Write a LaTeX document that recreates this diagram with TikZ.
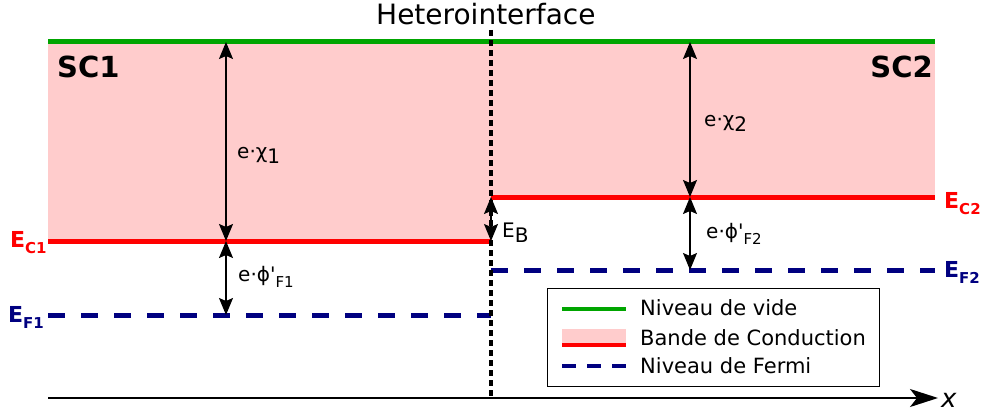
\documentclass[tikz,border=0pt]{standalone}
\usepackage{fontspec}
\setmainfont{DejaVu Sans}
\usetikzlibrary{arrows.meta}
\definecolor{vac}{RGB}{0,165,0}
\definecolor{band}{RGB}{255,204,204}
\definecolor{ec}{RGB}{255,0,0}
\definecolor{ef}{RGB}{0,0,128}
\tikzset{
  vacline/.style={vac, line width=5pt},
  ecline/.style={ec, line width=5pt},
  efline/.style={ef, line width=5pt, dash pattern=on 17pt off 16pt},
  gap/.style={black, line width=1.5pt, arrows={Stealth[length=17pt,width=14pt,inset=3pt]-Stealth[length=17pt,width=14pt,inset=3pt]}},
  lbl/.style={anchor=base west, inner sep=0pt, font=\fontsize{20}{24}\selectfont},
  elbl/.style={anchor=base west, inner sep=0pt, font=\fontsize{22}{26}\selectfont\bfseries},
}
\newcommand{\lsub}[1]{\raisebox{-5pt}{#1}}
\newcommand{\ssub}[1]{\raisebox{-6pt}{\fontsize{15}{18}\selectfont #1}}
\begin{document}
\begin{tikzpicture}[x=1pt,y=-1pt]
\useasboundingbox (0,0) rectangle (984,417);
% bands
\fill[band] (48,42) rectangle (491,241);
\fill[band] (491,42) rectangle (935,197);
% coordinates
\coordinate (vL) at (48,42);
\coordinate (vR) at (935,42);
\coordinate (c1L) at (48,241);
\coordinate (c1R) at (491,241);
\coordinate (c2L) at (491,197);
\coordinate (c2R) at (935,197);
\coordinate (f1L) at (48,315);
\coordinate (f1R) at (491,315);
\coordinate (f2L) at (491,270);
\coordinate (f2R) at (935,270);
\coordinate (a1t) at (226,42);
\coordinate (a1m) at (226,241);
\coordinate (a1b) at (226,315);
\coordinate (a2t) at (690,42);
\coordinate (a2m) at (690,197);
\coordinate (a2b) at (690,270);
\coordinate (ebt) at (491,197);
\coordinate (ebb) at (491,241);
\coordinate (hT) at (491,30);
\coordinate (hB) at (491,398);
\coordinate (xL) at (48,398);
\coordinate (xR) at (938,398);
% lines
\draw[vacline] (vL) -- (vR);
\draw[ecline] (c1L) -- (c1R);
\draw[ecline] (c2L) -- (c2R);
\draw[efline] (f1L) -- (f1R);
\draw[efline] (f2L) -- (f2R);
% interface
\draw[black, line width=3.5pt, dash pattern=on 6pt off 4pt] (hT) -- (hB);
% axis
\draw[black, line width=1.8pt, arrows={-Stealth[length=28pt,width=18pt,inset=7pt]}] (xL) -- (xR);
\node[anchor=base west, inner sep=0pt, font=\fontsize{26}{30}\selectfont\itshape] (xl) at (941,407) {x};
% arrows
\draw[gap] (a1t) -- (a1m);
\draw[gap] (a1m) -- (a1b);
\draw[gap] (a2t) -- (a2m);
\draw[gap] (a2m) -- (a2b);
\draw[gap] (ebt) -- (ebb);
% labels
\node[anchor=base west, inner sep=0pt, font=\fontsize{28}{32}\selectfont] (title) at (376,25) {Heterointerface};
\node[anchor=base west, inner sep=0pt, font=\fontsize{29}{34}\selectfont\bfseries] (sc1) at (57,78) {SC1};
\node[anchor=base east, inner sep=0pt, font=\fontsize{29}{34}\selectfont\bfseries] (sc2) at (933,78) {SC2};
\node[lbl] (chi1) at (237,158) {e·χ\lsub{1}};
\node[lbl] (chi2) at (704,127) {e·χ\lsub{2}};
\node[lbl] (phi1) at (238,281) {e·ϕ\textquotesingle\ssub{F1}};
\node[lbl] (phi2) at (706,238) {e·ϕ\textquotesingle\ssub{F2}};
\node[lbl] (eb) at (502,237) {E\lsub{B}};
\node[elbl, ec] (ec1) at (10,247) {E\ssub{C1}};
\node[elbl, ef] (ef1) at (8,322) {E\ssub{F1}};
\node[elbl, ec] (ec2) at (944,208) {E\ssub{C2}};
\node[elbl, ef] (ef2) at (944,277) {E\ssub{F2}};
% legend
\node[draw=black, line width=1.3pt, fill=white, minimum width=332pt, minimum height=98pt, anchor=north west, inner sep=0pt] (leg) at (547,288) {};
\coordinate (l1a) at (562,309); \coordinate (l1b) at (626,309);
\coordinate (l3a) at (562,366); \coordinate (l3b) at (626,366);
\draw[vac, line width=4pt] (l1a) -- (l1b);
\fill[band] (562,329) rectangle (626,345);
\coordinate (l2a) at (562,345); \coordinate (l2b) at (626,345);
\draw[ec, line width=4pt] (l2a) -- (l2b);
\draw[ef, line width=4pt, dash pattern=on 14pt off 11pt] (l3a) -- (l3b);
\node[anchor=base west, inner sep=0pt, font=\fontsize{21}{25}\selectfont] (t1) at (640,315) {Niveau de vide};
\node[anchor=base west, inner sep=0pt, font=\fontsize{21}{25}\selectfont] (t2) at (640,345) {Bande de Conduction};
\node[anchor=base west, inner sep=0pt, font=\fontsize{21}{25}\selectfont] (t3) at (640,373) {Niveau de Fermi};
\end{tikzpicture}
\end{document}
